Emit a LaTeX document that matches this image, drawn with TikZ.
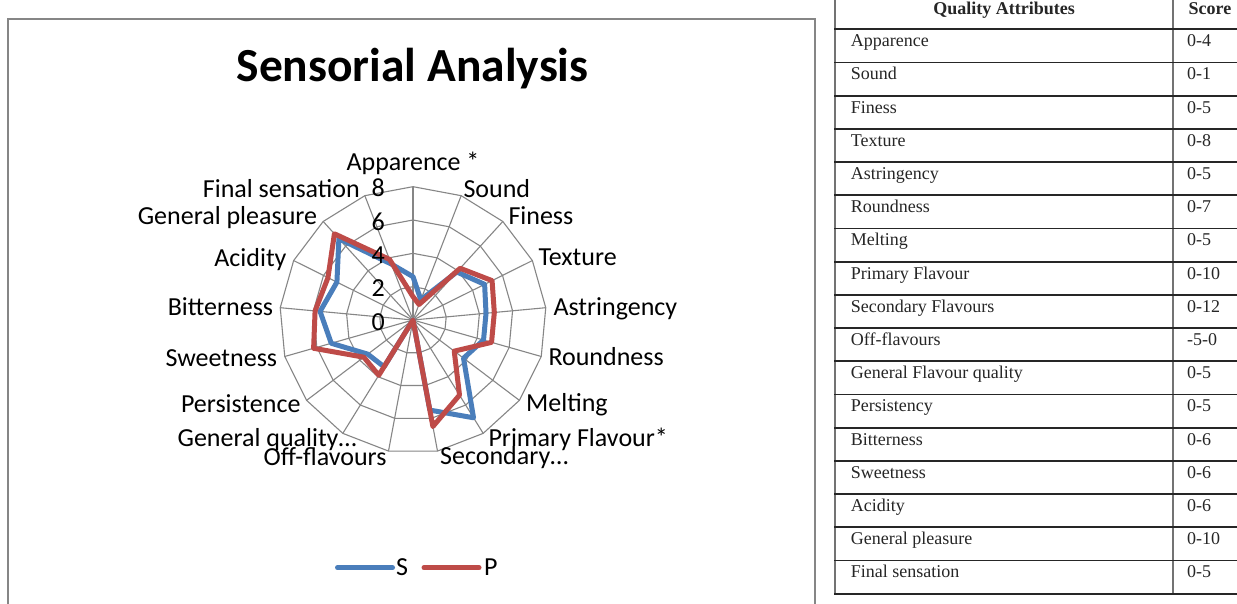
\documentclass[tikz,border=0pt]{standalone}
\usepackage{fontspec}
\setmainfont{Carlito}
\newfontfamily\tabfont{Liberation Serif}
\definecolor{sblue}{HTML}{4A7EBB}
\definecolor{pred}{HTML}{BE4B48}
\definecolor{gridgray}{HTML}{868686}
\tikzset{
  gridline/.style={draw=gridgray, line width=1.1pt},
  sline/.style={draw=sblue, line width=5pt, line join=round},
  pline/.style={draw=pred, line width=5pt, line join=round},
  lab/.style={font=\fontsize{26}{30}\selectfont, inner sep=0pt},
  titletxt/.style={font=\bfseries\fontsize{47.5}{50}\selectfont, inner sep=0pt, anchor=base},
  tabtxt/.style={font=\tabfont\fontsize{18}{20}\selectfont, inner sep=0pt, anchor=base west, text=black!85},
  tabhead/.style={font=\tabfont\bfseries\fontsize{18}{20}\selectfont, inner sep=0pt, anchor=base, text=black!85},
  hrule/.style={draw=black!85, line width=1.8pt},
  vrule/.style={draw=black!55, line width=1.8pt},
  framebox/.style={draw=gridgray, line width=1.3pt},
}
\begin{document}
\begin{tikzpicture}[x=1pt,y=-1pt]
\useasboundingbox (0,0) rectangle (1237,603);
\fill[white] (0,0) rectangle (1237,603);
% chart frame
\draw[framebox] (8,610) -- (8,19) -- (815,19) -- (815,610);
\node[titletxt] (title) at (412.5,81) {Sensorial Analysis};
\def\U{16.667}
\begin{scope}[shift={(413,320)}]
  \foreach \k in {2,4,6,8} {
    \draw[gridline] (0,{-\k*\U}) \foreach \i in {1,...,16} { -- ({\k*\U*cos(90-\i*360/17)},{-\k*\U*sin(90-\i*360/17)}) } -- cycle;
  }
  \foreach \i in {0,...,16} {
    \draw[gridline] (0,0) -- ({8*\U*cos(90-\i*360/17)},{-8*\U*sin(90-\i*360/17)});
  }
  \foreach \v [count=\i from 0] in {2.6,1.3,3.9,4.8,4.4,4.4,3.8,6.9,5.5,0,3.3,3.4,5.1,5.6,5.1,6.6,3.6}
    \coordinate (s\i) at ({\v*\U*cos(90-\i*360/17)},{-\v*\U*sin(90-\i*360/17)});
  \foreach \v [count=\i from 0] in {1.4,1.0,4.2,5.3,4.9,4.9,3.1,5.3,6.5,0,3.9,3.7,6.2,5.9,5.7,7.0,3.9}
    \coordinate (p\i) at ({\v*\U*cos(90-\i*360/17)},{-\v*\U*sin(90-\i*360/17)});
  \draw[sline] (s0) \foreach \i in {1,...,16} { -- (s\i) } -- cycle;
  \draw[pline] (p0) \foreach \i in {1,...,16} { -- (p\i) } -- cycle;
\end{scope}
% tick labels
\foreach \t in {0,2,4,6,8}
  \node[lab, anchor=base east] (tick\t) at (385,{330-\t*\U}) {\t};
% axis labels
\node[lab, anchor=base] (l0) at (413,170.7) {Apparence *};
\node[lab, anchor=base west] (l1) at (463.3,197.3) {Sound};
\node[lab, anchor=base west] (l2) at (508.3,224) {Finess};
\node[lab, anchor=base west] (l3) at (538.3,265) {Texture};
\node[lab, anchor=base west] (l4) at (553.3,315.7) {Astringency};
\node[lab, anchor=base west] (l5) at (548.3,365.7) {Roundness};
\node[lab, anchor=base west] (l6) at (526,411.7) {Melting};
\node[lab, anchor=base west] (l7) at (488.3,446) {Primary Flavour*};
\node[lab, anchor=base west] (l8) at (440,464.5) {Secondary…};
\node[lab, anchor=base east] (l9) at (386.7,465) {Off-flavours};
\node[lab, anchor=base east] (l10) at (356.7,446) {General quality…};
\node[lab, anchor=base east] (l11) at (300.7,412.7) {Persistence};
\node[lab, anchor=base east] (l12) at (277.3,366.7) {Sweetness};
\node[lab, anchor=base east] (l13) at (273.3,315.7) {Bitterness};
\node[lab, anchor=base east] (l14) at (286.7,266) {Acidity};
\node[lab, anchor=base east] (l15) at (317.3,224.3) {General pleasure};
\node[lab, anchor=base east] (l16) at (360,197.3) {Final sensation};
% legend
\coordinate (sa) at (337.5,567.7); \coordinate (sb) at (392.5,567.7);
\coordinate (pa) at (424,567.7); \coordinate (pb) at (479,567.7);
\draw[sline, line cap=round] (sa) -- (sb);
\draw[pline, line cap=round] (pa) -- (pb);
\node[lab, anchor=base west] (legS) at (396,575) {S};
\node[lab, anchor=base west] (legP) at (484,575) {P};
% table
\def\rt{29.3}
\def\rh{33.2}
\draw[vrule] (835,0) -- (835,594.6);
\draw[vrule] (1173,0) -- (1173,594.6);
\foreach \k in {0,...,17}
  \draw[hrule] (834,{\rt+\k*\rh}) -- (1237,{\rt+\k*\rh});
\node[tabhead] (hq) at (1004,14) {Quality Attributes};
\node[tabhead] (hs) at (1210,14) {Score};
\foreach \a/\s [count=\k from 0] in {Apparence/0-4, Sound/0-1, Finess/0-5, Texture/0-8, Astringency/0-5, Roundness/0-7, Melting/0-5, Primary Flavour/0-10, Secondary Flavours/0-12, Off-flavours/-5-0, General Flavour quality/0-5, Persistency/0-5, Bitterness/0-6, Sweetness/0-6, Acidity/0-6, General pleasure/0-10, Final sensation/0-5} {
  \node[tabtxt] (ta\k) at (850.7,{\rt+\k*\rh+17.4}) {\a};
  \node[tabtxt] (ts\k) at (1187,{\rt+\k*\rh+17.4}) {\s};
}
\end{tikzpicture}
\end{document}
